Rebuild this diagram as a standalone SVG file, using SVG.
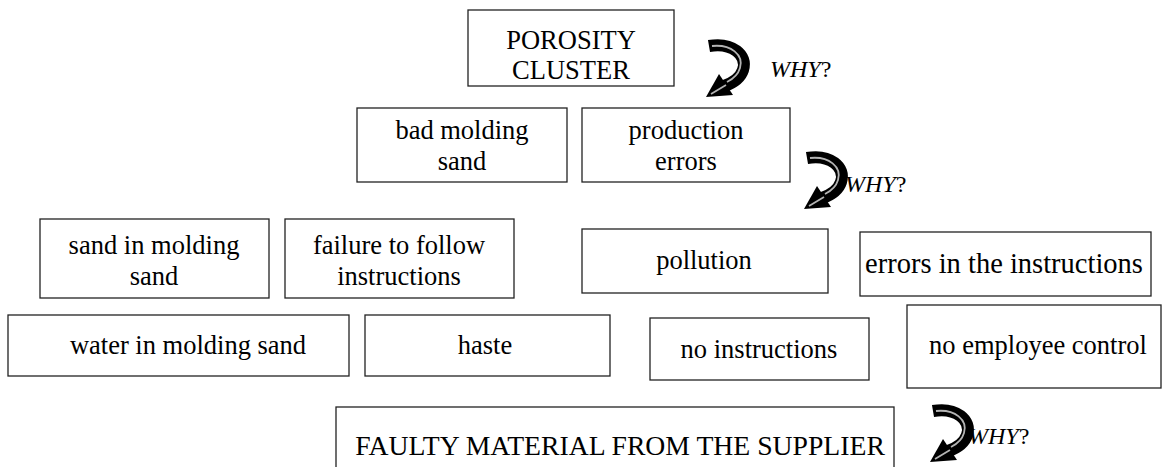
<svg xmlns="http://www.w3.org/2000/svg" width="1168" height="467" viewBox="0 0 1168 467">
<style>
.box{fill:#fff;stroke:#222;stroke-width:1.3}
.t{font-family:"Liberation Serif","Times New Roman",serif;font-size:26.5px;fill:#000;text-anchor:middle}
.why{font-family:"Liberation Serif","Times New Roman",serif;font-size:24px;fill:#000}
</style>
<defs>
<g id="curl">
<path d="M4 7 C27 3,43 16,38 31 C35 40,28 44,19 47" fill="none" stroke="#000" stroke-width="12"/>
<path d="M7 7 C26 5,39 16,35 29 C33 36,28 40,22 43" fill="none" stroke="#b4b4b4" stroke-width="1.8"/>
<polygon points="1,58 14,35 28,56" fill="#000"/>
<path d="M6 55 L21 46" stroke="#b4b4b4" stroke-width="1.8"/>
</g>
</defs>
<rect width="1168" height="467" fill="#fff"/>
<g id="n-porosity"><rect class="box" x="468" y="10" width="206" height="76"/><text class="t" x="571" y="49">POROSITY</text><text class="t" x="571" y="79">CLUSTER</text></g>
<g id="n-badsand"><rect class="box" x="357" y="108" width="210" height="74"/><text class="t" x="462" y="139">bad molding</text><text class="t" x="462" y="170">sand</text></g>
<g id="n-proderr"><rect class="box" x="582" y="108" width="208" height="74"/><text class="t" x="686" y="139">production</text><text class="t" x="686" y="170">errors</text></g>
<g id="n-sandin"><rect class="box" x="40" y="219" width="229" height="79"/><text class="t" x="154" y="254">sand in molding</text><text class="t" x="154" y="285">sand</text></g>
<g id="n-failure"><rect class="box" x="285" y="219" width="229" height="79"/><text class="t" x="399" y="254">failure to follow</text><text class="t" x="399" y="285">instructions</text></g>
<g id="n-pollution"><rect class="box" x="582" y="229" width="246" height="64"/><text class="t" x="704" y="269">pollution</text></g>
<g id="n-errinstr"><rect class="box" x="860" y="232" width="291" height="64"/><text class="t" x="1004" y="273" style="font-size:28.5px">errors in the instructions</text></g>
<g id="n-water"><rect class="box" x="8" y="315" width="341" height="61"/><text class="t" x="188" y="354">water in molding sand</text></g>
<g id="n-haste"><rect class="box" x="365" y="315" width="245" height="61"/><text class="t" x="485" y="354">haste</text></g>
<g id="n-noinstr"><rect class="box" x="650" y="318" width="219" height="62"/><text class="t" x="759" y="358">no instructions</text></g>
<g id="n-noemp"><rect class="box" x="907" y="305" width="254" height="83"/><text class="t" x="1038" y="354">no employee control</text></g>
<g id="n-faulty"><rect class="box" x="336" y="407" width="558" height="70"/><text class="t" x="620" y="455" style="font-size:27.7px">FAULTY MATERIAL FROM THE SUPPLIER</text></g>
<g id="connectors">
<use href="#curl" x="705" y="39"/>
<use href="#curl" x="803" y="151"/>
<use href="#curl" x="929" y="404"/>
<text class="why" x="770" y="77"><tspan font-style="italic">WHY</tspan>?</text>
<text class="why" x="845" y="192"><tspan font-style="italic">WHY</tspan>?</text>
<text class="why" x="968" y="444"><tspan font-style="italic">WHY</tspan>?</text>
</g>
</svg>
